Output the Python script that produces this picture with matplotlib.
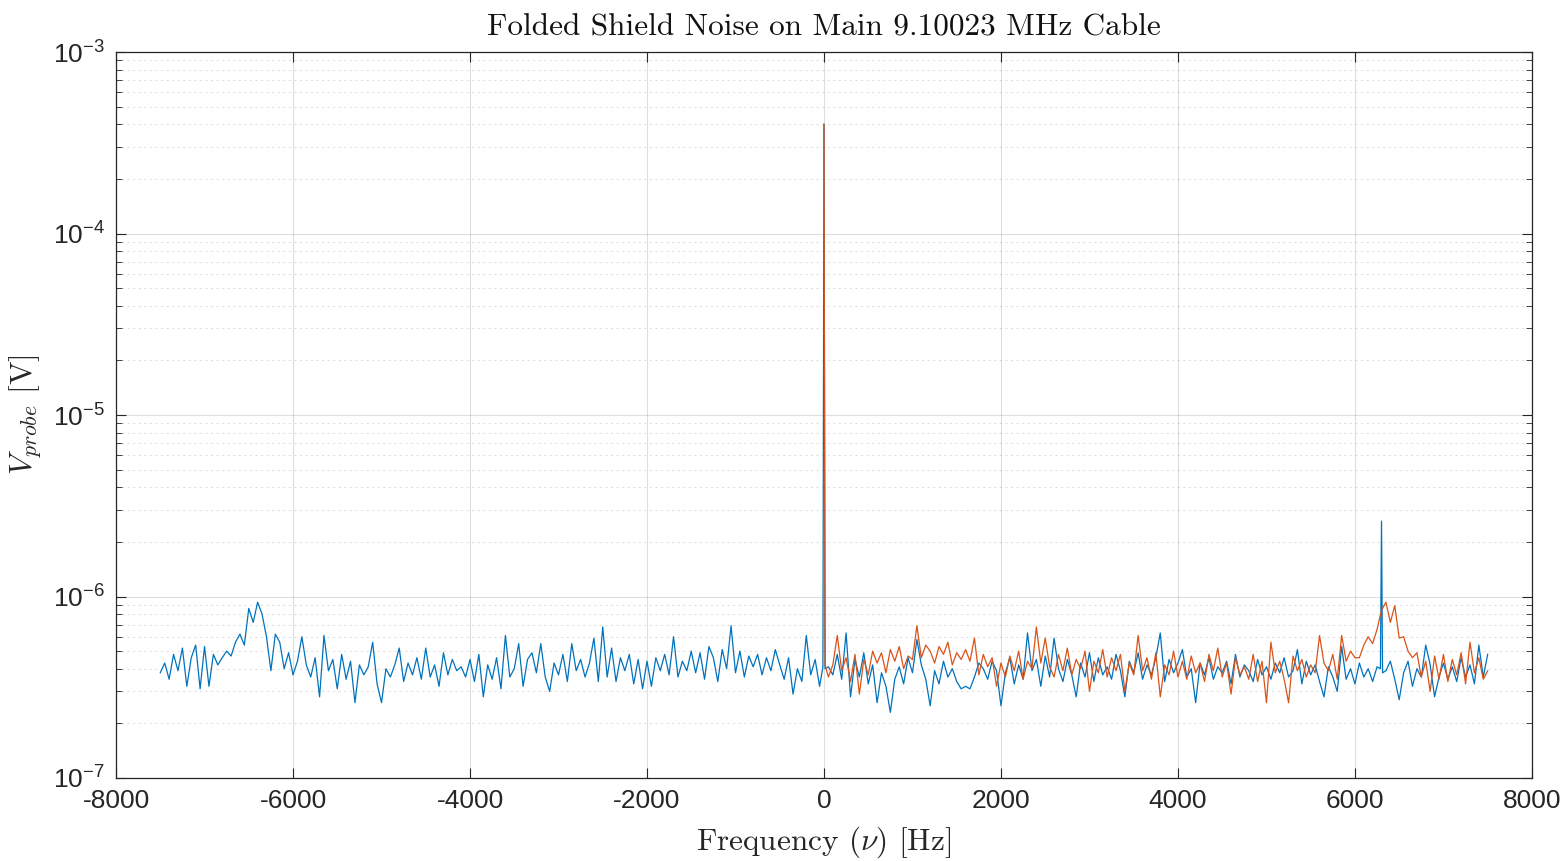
#%% Load modules
import matplotlib.pyplot as plt
import matplotlib as mpl
import numpy as np

#%% Data (levels in units of 1e-7 V)
step = 50    # Hz between samples
blue_start, blue_stop = -7500, 7500
blue_level = [
    3.8, 4.3, 3.5, 4.8, 3.9, 5.2, 3.2, 4.6, 5.4, 3.1,
    5.3, 3.2, 4.8, 4.2, 4.6, 5.0, 4.7, 5.6, 6.2, 5.4,
    8.6, 7.2, 9.3, 8.0, 6.0, 3.9, 6.2, 5.6, 4.0, 4.9,
    3.7, 4.4, 6.0, 4.2, 3.6, 4.6, 2.8, 6.1, 3.9, 4.5,
    3.1, 4.8, 3.5, 4.4, 2.6, 4.2, 3.7, 4.1, 5.6, 3.3,
    2.6, 4.0, 3.6, 4.2, 5.2, 3.4, 4.3, 3.7, 4.6, 3.5,
    5.2, 3.6, 4.2, 3.2, 4.9, 3.7, 4.5, 3.9, 4.1, 3.6,
    4.5, 3.4, 4.8, 2.8, 4.2, 3.5, 4.6, 3.1, 6.1, 3.6,
    4.0, 5.5, 3.2, 4.5, 4.9, 3.8, 5.5, 3.6, 3.0, 4.3,
    3.7, 4.8, 3.4, 5.5, 3.9, 4.5, 3.6, 4.3, 5.9, 3.4,
    6.8, 3.6, 5.2, 3.4, 4.6, 3.9, 4.8, 3.3, 4.5, 3.1,
    4.4, 3.2, 4.6, 3.9, 4.8, 3.7, 6.0, 3.6, 4.4, 3.9,
    5.0, 3.8, 4.9, 3.5, 5.3, 4.6, 3.4, 5.1, 4.0, 6.9,
    3.8, 5.0, 3.6, 4.7, 4.1, 4.8, 3.7, 4.6, 3.9, 5.1,
    4.2, 3.5, 4.6, 2.9, 4.0, 3.4, 6.1, 3.7, 4.5, 3.2,
    4000.0,
    4.1, 3.7, 4.8, 3.5, 6.3, 2.8, 4.5, 3.6, 4.9, 3.3,
    4.2, 2.6, 3.8, 3.2, 2.3, 3.5, 4.1, 3.3, 4.6, 3.8,
    5.8, 4.2, 3.5, 2.5, 3.9, 3.3, 4.4, 3.6, 4.0, 3.4,
    3.1, 3.2, 3.1, 3.6, 4.3, 4.0, 3.5, 4.4, 3.9, 2.5,
    3.8, 4.6, 3.3, 4.2, 3.5, 6.3, 3.9, 4.5, 3.2, 4.7,
    3.6, 5.9, 4.0, 3.4, 4.5, 3.7, 2.8, 4.3, 3.6, 4.9,
    3.4, 4.6, 3.7, 4.1, 3.5, 4.8, 3.9, 2.8, 4.4, 3.8,
    4.9, 3.5, 4.2, 3.7, 4.6, 6.3, 3.4, 4.5, 3.8, 4.3,
    5.1, 3.6, 4.0, 2.6, 4.3, 3.7, 4.6, 3.5, 4.1, 3.8,
    4.4, 3.3, 4.8, 3.6, 4.2, 3.9, 3.4, 4.5, 3.7, 4.1,
    3.5, 4.3, 3.8, 4.6, 3.6, 3.9, 5.1, 3.3, 4.4, 3.7,
    4.2, 3.4, 2.8, 4.1, 3.6, 3.0, 5.3, 3.5, 4.0, 3.3,
    4.3, 3.6, 4.0, 3.4, 4.1, 26.0, 3.9, 4.4, 3.5, 2.7,
    3.8, 4.4, 3.2, 4.0, 3.6, 5.4, 4.2, 2.8, 3.6, 4.3,
    3.5, 4.1, 3.4, 4.6, 3.6, 4.2, 3.3, 5.4, 3.6, 4.8,
]
# extra samples next to the narrow lines so they stay thin
blue_extra_freq = [-12, 12, 6288, 6312]
blue_extra_level = [4.1, 4.0, 4.0, 3.8]

orange_start, orange_stop = 0, 7500
orange_level = [
    4000.0,
    3.6, 4.2, 6.1, 3.9, 4.6, 3.4, 4.8, 2.9, 4.5, 3.7,
    5.0, 4.3, 4.9, 3.8, 5.1, 4.4, 5.3, 4.0, 4.7, 4.5,
    6.9, 4.6, 5.4, 5.0, 4.3, 5.3, 4.8, 5.6, 4.2, 4.9,
    4.5, 5.1, 4.4, 5.9, 3.7, 4.8, 4.1, 4.6, 3.2, 4.3,
    3.6, 4.7, 3.9, 5.0, 3.5, 4.4, 4.0, 6.8, 4.3, 5.9,
    4.1, 3.6, 4.8, 3.9, 5.2, 3.7, 4.5, 4.0, 5.0, 3.0,
    4.4, 3.8, 5.1, 3.6, 4.6, 3.9, 4.8, 3.0, 4.3, 3.7,
    6.1, 3.9, 4.6, 3.5, 4.9, 2.8, 4.2, 3.7, 5.0, 3.6,
    4.4, 3.5, 4.7, 3.8, 4.3, 3.4, 4.8, 3.9, 5.2, 3.6,
    4.3, 2.9, 4.6, 3.7, 4.1, 3.5, 4.8, 3.4, 4.4, 2.6,
    5.6, 3.8, 4.4, 3.5, 2.6, 4.7, 3.9, 4.5, 3.6, 4.2,
    3.8, 6.1, 4.3, 3.9, 4.8, 3.5, 6.1, 4.4, 5.0, 4.6,
    4.6, 5.4, 6.0, 5.5, 6.6, 8.4, 9.3, 7.2, 8.9, 5.9,
    6.0, 5.0, 4.6, 4.9, 3.6, 4.4, 3.0, 4.7, 3.5, 4.8,
    3.4, 4.5, 3.7, 4.9, 3.3, 5.6, 3.8, 4.6, 3.5, 3.9,
]
orange_extra_freq = [12]
orange_extra_level = [4.2]

title = 'Folded Shield Noise on Main 9.10023 MHz Cable'
xlab = r'Frequency $(\nu)$ [Hz]'
ylab = r'$V_{probe}$ [V]'


def build(start, stop, level, extra_f, extra_v):
    f = np.concatenate([np.arange(start, stop + step, step), extra_f])
    v = np.concatenate([level, extra_v]) * 1e-7
    order = np.argsort(f, kind='stable')
    return f[order], v[order]


f_blue, v_blue = build(blue_start, blue_stop, blue_level, blue_extra_freq, blue_extra_level)
f_orange, v_orange = build(orange_start, orange_stop, orange_level, orange_extra_freq, orange_extra_level)

#%% Plot
mpl.rcParams['font.family'] = ['Liberation Sans', 'DejaVu Sans']
mpl.rcParams['mathtext.fontset'] = 'custom'
mpl.rcParams['mathtext.rm'] = 'Liberation Sans'
mpl.rcParams['mathtext.it'] = 'Liberation Sans:italic'
mpl.rcParams['axes.unicode_minus'] = False

fig = plt.figure(figsize=(15.68, 8.61), dpi=100)
ax = fig.add_axes([0.074, 0.0964, 0.903, 0.8432])

ax.plot(f_blue, v_blue, color='#0072BD', lw=0.9)
ax.plot(f_orange, v_orange, color='#D95319', lw=0.9)

ax.set_yscale('log')
ax.set_xlim(-8000, 8000)
ax.set_ylim(1e-7, 1e-3)
ax.set_xticks(np.arange(-8000, 8001, 2000))

ax.grid(True, which='major', color='#262626', alpha=0.15, lw=0.8)
ax.grid(True, which='minor', axis='y', color='#262626', alpha=0.14, lw=0.8, ls=(0, (2, 3)))
ax.set_axisbelow(True)
ax.tick_params(which='both', direction='in', top=True, right=True, colors='#262626')
ax.tick_params(which='major', length=7, labelsize=19, pad=8)
ax.tick_params(which='minor', length=4)
ax.xaxis.set_minor_locator(mpl.ticker.NullLocator())
for s in ax.spines.values():
    s.set_color('#262626')
    s.set_linewidth(0.9)

ax.set_title(title, fontsize=22.5, family='cmr10', color='#111111', pad=12)
ax.set_xlabel(xlab, fontsize=22.5, family='cmr10', math_fontfamily='cm', color='#262626', labelpad=8)
ax.set_ylabel(ylab, fontsize=22.5, family='cmr10', math_fontfamily='cm', color='#262626', labelpad=6)

fig.savefig('out.png', dpi=100)
